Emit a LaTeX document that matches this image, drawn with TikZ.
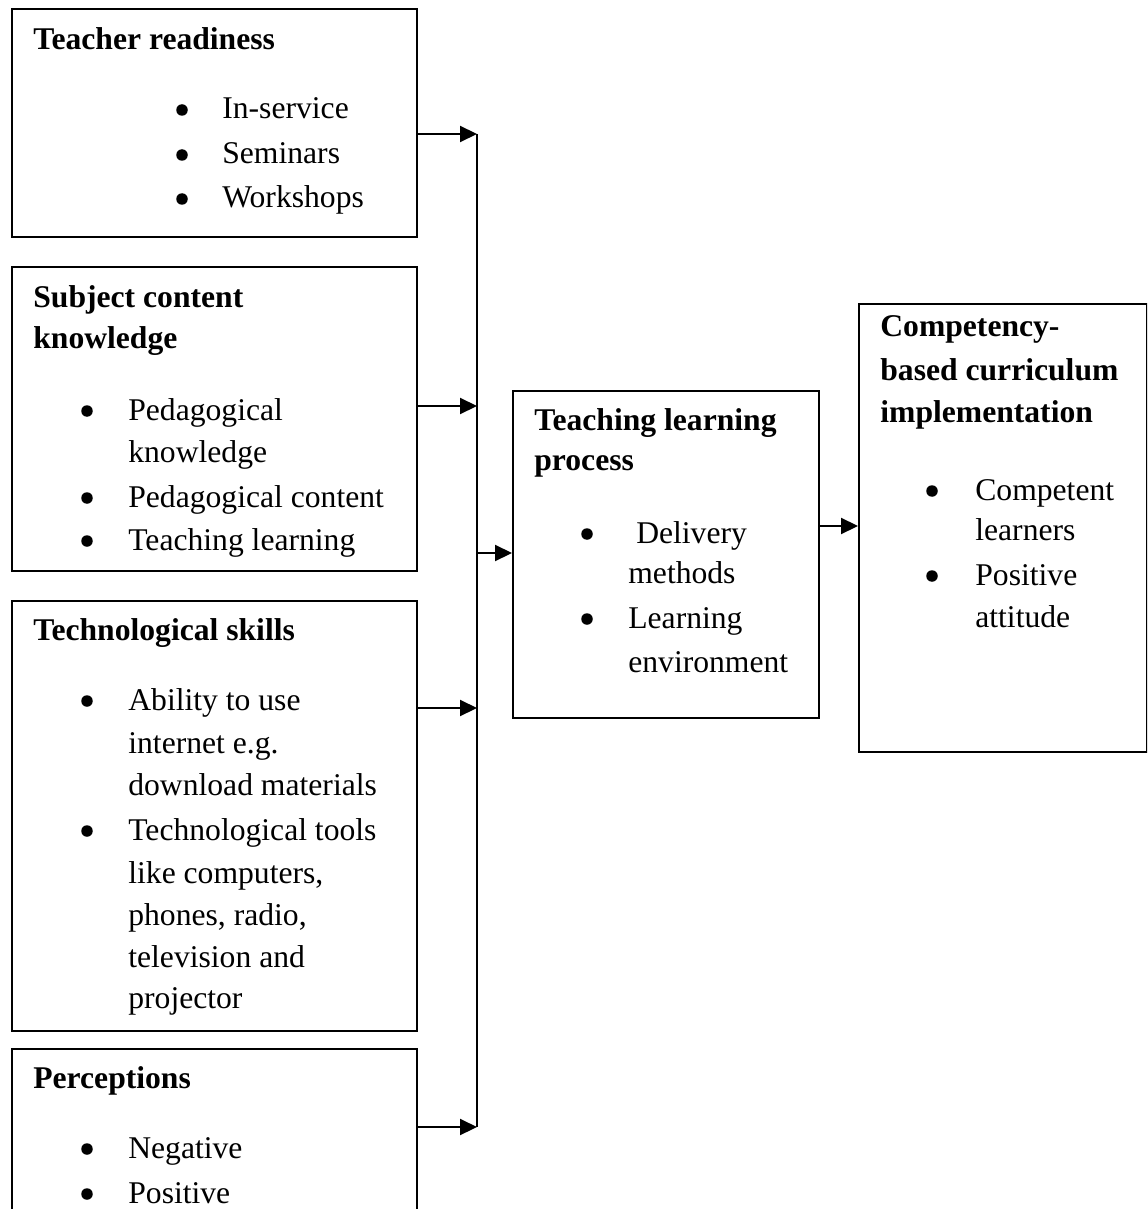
\documentclass[tikz,border=0pt]{standalone}
\usepackage{fontspec}
\setmainfont{Liberation Serif}
\usetikzlibrary{arrows.meta}

\tikzset{
  box/.style={draw, line width=1.2pt, rectangle, anchor=north west, inner sep=0pt},
  txt/.style={anchor=base west, inner sep=0pt, font=\fontsize{18}{22}\selectfont},
  hd/.style={txt, font=\fontsize{18}{22}\selectfont\bfseries},
  dot/.style={circle, fill, inner sep=0pt, minimum size=0.23cm},
  arr/.style={line width=1.2pt, -{Triangle[length=0.34cm,width=0.32cm]}},
  line/.style={line width=1.2pt}
}

\begin{document}
\begin{tikzpicture}[x=0.02cm, y=-0.02cm]
    \useasboundingbox (0,0) rectangle (1147,1209);
    \clip (0,0) rectangle (1147,1209);

    % boxes
    \node[box, minimum width=8.1cm, minimum height=4.56cm] (ready) at (11,8) {};
    \node[box, minimum width=8.1cm, minimum height=6.08cm] (subj) at (11,266) {};
    \node[box, minimum width=8.1cm, minimum height=8.6cm] (tech) at (11,600) {};
    \node[box, minimum width=8.1cm, minimum height=4.24cm] (perc) at (11,1048) {};
    \node[box, minimum width=6.12cm, minimum height=6.54cm] (proc) at (512,390) {};
    \node[box, minimum width=5.76cm, minimum height=8.96cm] (cbc) at (858,303) {};

    % teacher readiness
    \node[hd] (ready-h) at (33,50) {Teacher readiness};
    \foreach \y/\t [count=\i] in {119/In-service, 164/Seminars, 208/Workshops}
        \node[txt] (ready-\i) at (222,\y) {\t};
    \foreach \y [count=\i] in {119,164,208}
        \node[dot] (ready-b\i) at (182,\y-9) {};

    % subject content knowledge
    \node[hd] (subj-h1) at (33,307) {Subject content};
    \node[hd] (subj-h2) at (33,348) {knowledge};
    \foreach \y/\t [count=\i] in {420/Pedagogical, 462/knowledge, 507/Pedagogical content, 550/Teaching learning}
        \node[txt] (subj-\i) at (128,\y) {\t};
    \foreach \y [count=\i] in {420,507,550}
        \node[dot] (subj-b\i) at (87,\y-9) {};

    % technological skills
    \node[hd] (tech-h) at (33,640) {Technological skills};
    \foreach \y/\t [count=\i] in {710/Ability to use, 753/internet e.g., 795/download materials,
        840/Technological tools, 883/{like computers,}, 925/{phones, radio,}, 967/television and, 1008/projector}
        \node[txt] (tech-\i) at (128,\y) {\t};
    \foreach \y [count=\i] in {710,840}
        \node[dot] (tech-b\i) at (87,\y-9) {};

    % perceptions
    \node[hd] (perc-h) at (33,1088) {Perceptions};
    \foreach \y/\t [count=\i] in {1158/Negative, 1203/Positive}
        \node[txt] (perc-\i) at (128,\y) {\t};
    \foreach \y [count=\i] in {1158,1203}
        \node[dot] (perc-b\i) at (87,\y-9) {};

    % teaching learning process
    \node[hd] (proc-h1) at (534,430) {Teaching learning};
    \node[hd] (proc-h2) at (534,470) {process};
    \foreach \y/\t [count=\i] in {543/~Delivery, 583/methods, 628/Learning, 672/environment}
        \node[txt] (proc-\i) at (628,\y) {\t};
    \foreach \y [count=\i] in {543,628}
        \node[dot] (proc-b\i) at (587,\y-9) {};

    % competency-based curriculum
    \node[hd] (cbc-h1) at (880,337) {Competency-};
    \node[hd] (cbc-h2) at (880,380) {based curriculum};
    \node[hd] (cbc-h3) at (880,422) {implementation};
    \foreach \y/\t [count=\i] in {500/Competent, 540/learners, 585/Positive, 627/attitude}
        \node[txt] (cbc-\i) at (975,\y) {\t};
    \foreach \y [count=\i] in {500,585}
        \node[dot] (cbc-b\i) at (932,\y-9) {};

    % connectors
    \coordinate (j1) at (477,134);
    \coordinate (j2) at (477,406);
    \coordinate (j3) at (477,708);
    \coordinate (j4) at (477,1127);
    \coordinate (jm) at (477,553);
    \coordinate (jr) at (818,526);
    \draw[arr] (ready.east |- j1) -- (j1);
    \draw[arr] (subj.east |- j2) -- (j2);
    \draw[arr] (tech.east |- j3) -- (j3);
    \draw[arr] (perc.east |- j4) -- (j4);
    \draw[line] (j1) -- (j4);
    \draw[arr] (jm) -- (proc.west |- jm);
    \draw[arr] (jr) -- (cbc.west |- jr);
\end{tikzpicture}
\end{document}
